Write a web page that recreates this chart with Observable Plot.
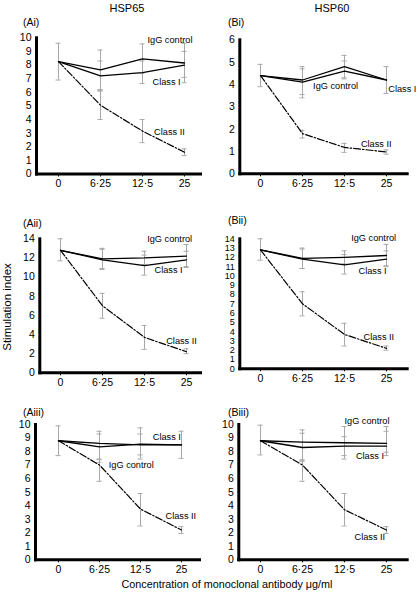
<!DOCTYPE html>
<html>
<head>
<meta charset="utf-8">
<script src="https://cdn.jsdelivr.net/npm/d3@7"></script>
<script src="https://cdn.jsdelivr.net/npm/@observablehq/plot@0.6"></script>
<style>
  html, body { margin: 0; padding: 0; background: #fff; }
  #wrap { position: relative; width: 417px; height: 592px; overflow: hidden; font-family: "Liberation Sans", Arial, sans-serif; color: #000; }
  #wrap svg { position: absolute; }
  .lab { position: absolute; white-space: nowrap; line-height: 1; }
  .c { transform: translate(-50%, -50%); }
  .l { transform: translateY(-50%); }
</style>
</head>
<body>
<div id="wrap">
  <div class="lab c" style="left:127px;top:8px;font-size:11px">HSP65</div>
  <div class="lab c" style="left:332px;top:8px;font-size:11px">HSP60</div>
  <div class="lab l" style="left:23px;top:22px;font-size:10.5px">(Ai)</div>
  <div class="lab l" style="left:228px;top:22px;font-size:10.5px">(Bi)</div>
  <div class="lab l" style="left:23px;top:223px;font-size:10.5px">(Aii)</div>
  <div class="lab l" style="left:228px;top:220px;font-size:10.5px">(Bii)</div>
  <div class="lab l" style="left:23px;top:412px;font-size:10.5px">(Aiii)</div>
  <div class="lab l" style="left:228px;top:412px;font-size:10.5px">(Biii)</div>
  <div class="lab" style="left:8px;top:307px;font-size:11.5px;transform:translate(-50%,-50%) rotate(-90deg)">Stimulation index</div>
  <div class="lab c" style="left:227px;top:584px;font-size:10.8px">Concentration of monoclonal antibody μg/ml</div>
</div>
<script>
const categories = ["0", "6·25", "12·5", "25"];

// Panel Ai (HSP65)
const aiIgG = [8.25, 7.65, 8.45, 8.15];
const aiClassI = [8.25, 7.2, 7.45, 8.0];
const aiClassII = [8.25, 5.05, 3.15, 1.6];
const aiIgGErr = [[6.9, 9.6], [6.2, 9.1], [7.4, 9.55], [6.7, 9.6]];
const aiClassIErr = [null, [6.1, 8.3], [6.65, 8.3], [7.1, 9.0]];
const aiClassIIErr = [null, [4.0, 6.1], [2.3, 4.0], [1.35, 1.85]];
const aiLabels = [["IgG control", "12·5", 9.85, 5], ["Class I", "12·5", 6.74, 10], ["Class II", "12·5", 3.07, 11.6]];

// Panel Bi (HSP60)
const biIgG = [4.4, 4.1, 4.6, 4.2];
const biClassI = [4.4, 4.2, 4.8, 4.2];
const biClassII = [4.4, 1.8, 1.18, 0.98];
const biIgGErr = [[3.9, 4.9], [3.4, 4.8], [4.25, 5.05], [3.6, 4.8]];
const biClassIErr = [null, [3.55, 4.7], [4.3, 5.3], null];
const biClassIIErr = [null, [1.6, 1.95], [0.96, 1.36], [0.88, 1.07]];
const biLabels = [["IgG control", "6·25", 3.93, 10.6], ["Class I", "25", 3.81, 1.8], ["Class II", "12·5", 1.31, 16.4]];

// Panel Aii
const aiiIgG = [12.8, 11.9, 12.0, 12.2];
const aiiClassI = [12.8, 11.8, 11.2, 11.8];
const aiiClassII = [12.8, 7.0, 3.7, 2.2];
const aiiIgGErr = [[11.7, 14.0], [10.9, 13.0], [11.3, 12.7], [11.1, 13.4]];
const aiiClassIErr = [null, [10.8, 12.9], [10.2, 12.3], [11.0, 12.7]];
const aiiClassIIErr = [null, [5.7, 8.3], [2.45, 4.95], [2.0, 2.5]];
const aiiLabels = [["IgG control", "12·5", 14.0, 2.7], ["Class I", "12·5", 10.69, 10], ["Class II", "12·5", 3.3, 21.7]];

// Panel Bii
const biiIgG = [12.8, 11.9, 12.0, 12.2];
const biiClassI = [12.8, 11.8, 11.2, 11.8];
const biiClassII = [12.8, 7.0, 3.7, 2.2];
const biiIgGErr = [[11.7, 14.0], [10.8, 13.0], [11.3, 12.7], [11.1, 13.4]];
const biiClassIErr = [null, [10.8, 12.9], [10.2, 12.3], [11.0, 12.7]];
const biiClassIIErr = [null, [5.7, 8.3], [2.45, 4.9], [2.0, 2.45]];
const biiLabels = [["IgG control", "12·5", 14.1, 6.7], ["Class I", "12·5", 10.48, 14], ["Class II", "12·5", 3.37, 19]];

// Panel Aiii
const aiiiIgG = [8.8, 8.35, 8.55, 8.5];
const aiiiClassI = [8.8, 8.6, 8.5, 8.5];
const aiiiClassII = [8.8, 7.0, 3.75, 2.2];
const aiiiIgGErr = [null, [7.2, 9.5], [7.45, 9.75], null];
const aiiiClassIErr = [[7.7, 9.9], [7.45, 9.3], [7.75, 9.3], [7.5, 9.5]];
const aiiiClassIIErr = [null, [5.8, 7.4], [2.5, 4.9], [1.95, 2.45]];
const aiiiLabels = [["Class I", "12·5", 9.06, 12.3], ["IgG control", "6·25", 7.04, 9.3], ["Class II", "12·5", 3.22, 25]];

// Panel Biii
const biiiIgG = [8.8, 8.7, 8.65, 8.6];
const biiiClassI = [8.8, 8.3, 8.4, 8.4];
const biiiClassII = [8.8, 7.0, 3.7, 2.2];
const biiiIgGErr = [[7.75, 9.95], [7.3, 9.6], [7.45, 9.85], [7.7, 9.85]];
const biiiClassIErr = [null, [7.4, 9.35], [7.7, 9.1], [7.95, 9.5]];
const biiiClassIIErr = [null, [5.8, 7.3], [2.5, 4.9], [1.95, 2.45]];
const biiiLabels = [["IgG control", "12·5", 10.24, 0], ["Class I", "12·5", 7.66, 11.4], ["Class II", "12·5", 1.67, 10]];

function rows(values, errs, series) {
  return categories.map((c, i) => ({
    cat: c, v: values[i], series,
    lo: errs[i] ? errs[i][0] : null,
    hi: errs[i] ? errs[i][1] : null
  }));
}

function panel(cfg) {
  const series = [
    rows(cfg.igg, cfg.iggErr, "IgG control"),
    rows(cfg.c1, cfg.c1Err, "Class I"),
    rows(cfg.c2, cfg.c2Err, "Class II")
  ];
  const all = series.flat();
  const errs = all.filter(d => d.lo != null);
  const marks = [
    Plot.ruleX(errs, {x: "cat", y1: "lo", y2: "hi", stroke: "#a8a8a8", strokeWidth: 1}),
    Plot.ruleY(errs, {x1: "cat", x2: "cat", y: "lo", stroke: "#a8a8a8", strokeWidth: 1, insetLeft: -2.5, insetRight: -2.5}),
    Plot.ruleY(errs, {x1: "cat", x2: "cat", y: "hi", stroke: "#a8a8a8", strokeWidth: 1, insetLeft: -2.5, insetRight: -2.5}),
    Plot.line(series[0], {x: "cat", y: "v", stroke: "#000", strokeWidth: 1.3}),
    Plot.line(series[1], {x: "cat", y: "v", stroke: "#000", strokeWidth: 1.3}),
    Plot.line(series[2], {x: "cat", y: "v", stroke: "#000", strokeWidth: 1.2, strokeDasharray: "7 2 1.5 2"}),
    Plot.axisY({ticks: cfg.yTicks, tickFormat: d => String(d), tickSize: 0, tickPadding: 5, fontSize: cfg.yFont || 10.5}),
    Plot.axisX({tickSize: 3, tickPadding: 3, fontSize: 10.5}),
    Plot.frame({anchor: "left", strokeWidth: 3, stroke: "#000"}),
    Plot.frame({anchor: "bottom", strokeWidth: 3, stroke: "#000"}),
    ...cfg.labels.map(([t, c, y, dx]) =>
      Plot.text([{t, c, y}], {x: "c", y: "y", text: "t", dx, textAnchor: "start", fontSize: 9.2}))
  ];
  const svg = Plot.plot({
    width: cfg.w, height: cfg.h,
    marginLeft: cfg.ml, marginRight: cfg.mr, marginTop: cfg.mt, marginBottom: cfg.mb,
    style: {fontFamily: "Liberation Sans, Arial, sans-serif", fontSize: "10.5px", color: "#000", background: "transparent", overflow: "visible"},
    x: {type: "point", domain: categories, padding: 0, insetLeft: cfg.il, insetRight: cfg.ir, label: null},
    y: {domain: [0, cfg.ymax], label: null},
    marks
  });
  svg.style.left = cfg.left + "px";
  svg.style.top = cfg.top + "px";
  document.getElementById("wrap").appendChild(svg);
}

panel({left: 0, top: 0, w: 208, h: 195, ml: 36, mr: 8, mt: 37.3, mb: 21.5, il: 21, ir: 16,
  ymax: 10, yTicks: d3.range(0, 11, 1), igg: aiIgG, c1: aiClassI, c2: aiClassII,
  iggErr: aiIgGErr, c1Err: aiClassIErr, c2Err: aiClassIIErr, labels: aiLabels});
panel({left: 208, top: 0, w: 209, h: 195, ml: 31.3, mr: 10.3, mt: 39.3, mb: 21.7, il: 19.7, ir: 20,
  ymax: 6, yTicks: d3.range(0, 7, 1), igg: biIgG, c1: biClassI, c2: biClassII,
  iggErr: biIgGErr, c1Err: biClassIErr, c2Err: biClassIIErr, labels: biLabels});
panel({left: 0, top: 195, w: 208, h: 195, ml: 39.3, mr: 8, mt: 43.3, mb: 17.7, il: 20, ir: 13.3,
  ymax: 14, yTicks: d3.range(0, 15, 2), igg: aiiIgG, c1: aiiClassI, c2: aiiClassII,
  iggErr: aiiIgGErr, c1Err: aiiClassIErr, c2Err: aiiClassIIErr, labels: aiiLabels});
panel({left: 208, top: 195, w: 209, h: 195, ml: 31.3, mr: 10.3, mt: 43.3, mb: 21.7, il: 20.7, ir: 20,
  ymax: 14, yTicks: d3.range(0, 15, 1), yFont: 9, igg: biiIgG, c1: biiClassI, c2: biiClassII,
  iggErr: biiIgGErr, c1Err: biiClassIErr, c2Err: biiClassIIErr, labels: biiLabels});
panel({left: 0, top: 390, w: 208, h: 188, ml: 35, mr: 9, mt: 34, mb: 18.7, il: 21.7, ir: 16.3,
  ymax: 10, yTicks: d3.range(0, 11, 1), igg: aiiiIgG, c1: aiiiClassI, c2: aiiiClassII,
  iggErr: aiiiIgGErr, c1Err: aiiiClassIErr, c2Err: aiiiClassIIErr, labels: aiiiLabels});
panel({left: 208, top: 390, w: 209, h: 188, ml: 30.3, mr: 10.3, mt: 34, mb: 18.7, il: 21.7, ir: 20,
  ymax: 10, yTicks: d3.range(0, 11, 1), igg: biiiIgG, c1: biiiClassI, c2: biiiClassII,
  iggErr: biiiIgGErr, c1Err: biiiClassIErr, c2Err: biiiClassIIErr, labels: biiiLabels});
</script>
</body>
</html>
